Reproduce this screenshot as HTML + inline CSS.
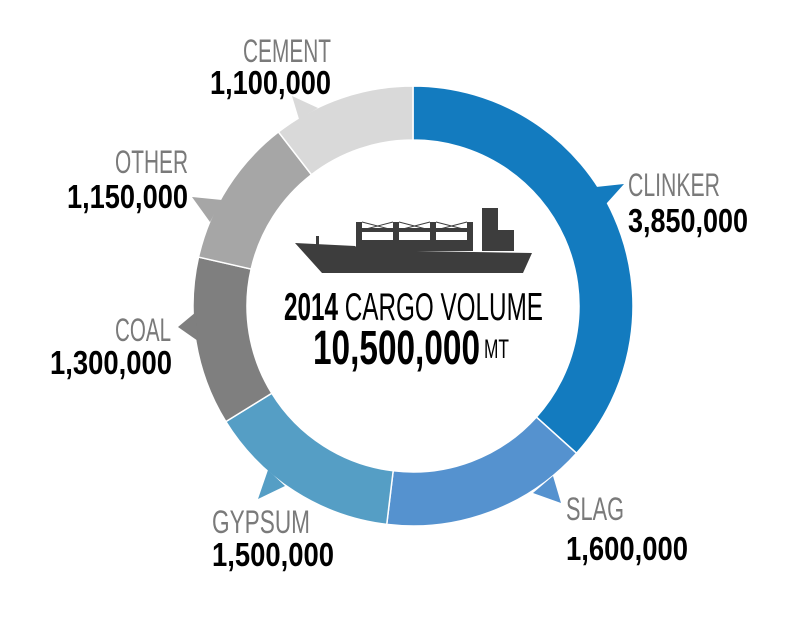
<!DOCTYPE html>
<html><head><meta charset="utf-8"><style>
html,body{margin:0;padding:0;background:#fff;}
svg{display:block;}
text{font-family:"Liberation Sans Narrow","Liberation Sans",sans-serif;}
.cat{fill:#7a7a7a;font-size:32px;}
.val{fill:#000;font-size:33px;font-weight:bold;}
</style></head><body>
<svg id="chart" width="800" height="617" viewBox="0 0 800 617" xmlns="http://www.w3.org/2000/svg">
<g id="segs"></g>
<g>
<polygon points="596,187 624,184 606,204" fill="#137bbf"/>
<polygon points="553,476 561,503 533,493" fill="#5592cf"/>
<polygon points="268,470 258,499 285,486" fill="#559ec5"/>
<polygon points="196,312 178,327 198,341" fill="#7f7f7f"/>
<polygon points="192,197 222,200 210,222" fill="#a6a6a6"/>
<polygon points="292,96 299,119 318,108" fill="#d9d9d9"/>
</g>
<g fill="#3d3d3d">
<polygon points="295,243 355,246 360,250 532,253 523,273 322,273"/>
<rect x="356" y="222" width="6" height="29"/><rect x="393" y="222" width="6" height="29"/><rect x="430" y="222" width="6" height="29"/><rect x="467" y="222" width="6" height="29"/>
<rect x="357" y="228" width="116" height="4"/>
<rect x="357" y="240" width="116" height="11"/>
<rect x="482" y="208" width="16" height="43"/>
<rect x="497" y="230" width="17" height="21"/>
<rect x="316" y="236" width="3" height="10"/>
<path d="M362,222 L393,230 M362,230 L393,222 M399,222 L430,230 M399,230 L430,222 M436,222 L467,230 M436,230 L467,222" stroke="#3d3d3d" stroke-width="1" fill="none"/>
</g>
<g>
<text x="284" y="320" font-size="39" textLength="259" lengthAdjust="spacingAndGlyphs"><tspan font-weight="bold">2014</tspan> CARGO VOLUME</text>
<text x="313" y="364" font-size="48" font-weight="bold" textLength="167" lengthAdjust="spacingAndGlyphs">10,500,000</text>
<text x="484" y="358" font-size="27" textLength="25" lengthAdjust="spacingAndGlyphs">MT</text>
</g>
<g id="labels"></g>
</svg>
<script>
const categories=["CLINKER","SLAG","GYPSUM","COAL","OTHER","CEMENT"];
const values=[3850000,1600000,1500000,1300000,1150000,1100000];
const valueLabels=["3,850,000","1,600,000","1,500,000","1,300,000","1,150,000","1,100,000"];
const colors=["#137bbf","#5592cf","#559ec5","#7f7f7f","#a6a6a6","#d9d9d9"];
const labelPos=[[628,196,232,92,120],[566,520,560,58,122],[212,533,566,98,122],[115,341,374,56,122,50],[115,173,208,73,121,67],[243,62,94,88,121,210]];
const NS="http://www.w3.org/2000/svg";
const cx=413,cy=306,ro=220,ri=166;
const total=values.reduce((a,b)=>a+b,0);
function pt(a,r){return [cx+r*Math.sin(a),cy-r*Math.cos(a)];}
let a0=0;
const segs=document.getElementById('segs');
values.forEach((v,i)=>{
  const a1=a0+v/total*2*Math.PI;
  const p1=pt(a0,ro),p2=pt(a1,ro),p3=pt(a1,ri),p4=pt(a0,ri);
  const lg=(a1-a0)>Math.PI?1:0;
  const p=document.createElementNS(NS,'path');
  p.setAttribute('d',`M${p1} A${ro},${ro} 0 ${lg} 1 ${p2} L${p3} A${ri},${ri} 0 ${lg} 0 ${p4} Z`);
  p.setAttribute('fill',colors[i]);
  p.setAttribute('stroke','#fff');
  p.setAttribute('stroke-width','1.5');
  
  
  segs.appendChild(p);
  a0=a1;
});
const lab=document.getElementById('labels');
categories.forEach((c,i)=>{
  const L=labelPos[i];
  const t=document.createElementNS(NS,'text');
  t.setAttribute('class','cat');
  t.setAttribute('x',L[0]);t.setAttribute('y',L[1]);
  t.setAttribute('textLength',L[3]);t.setAttribute('lengthAdjust','spacingAndGlyphs');
  t.textContent=c;
  
  
  lab.appendChild(t);
  const t2=document.createElementNS(NS,'text');
  t2.setAttribute('class','val');
  t2.setAttribute('x',L[5]!==undefined?L[5]:L[0]);t2.setAttribute('y',L[2]);
  t2.setAttribute('textLength',L[4]);t2.setAttribute('lengthAdjust','spacingAndGlyphs');
  t2.textContent=valueLabels[i];
  
  
  lab.appendChild(t2);
});
</script>
</body></html>
